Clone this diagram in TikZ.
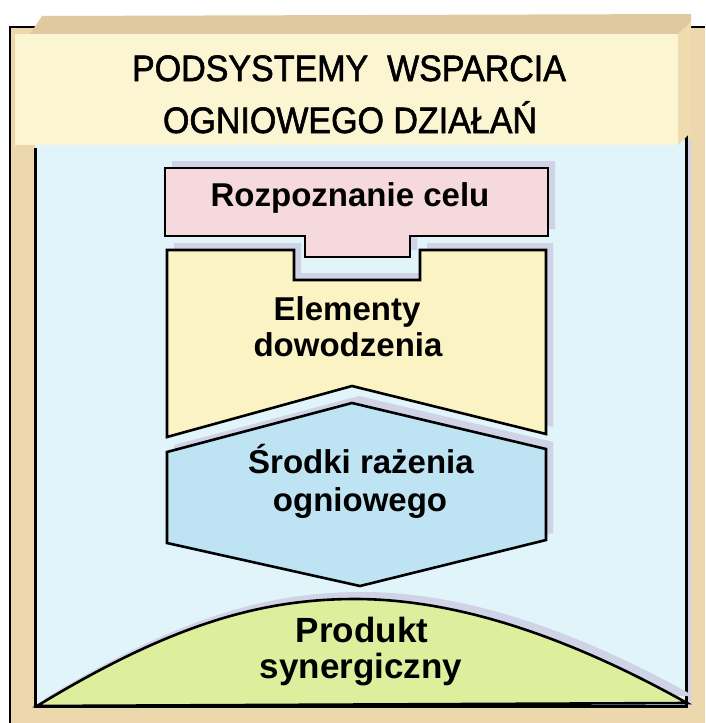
\documentclass[tikz,border=0pt]{standalone}
\usepackage{fontspec}
\setmainfont{Liberation Sans}
\newfontfamily\titlefont[FakeBold=1.6]{Liberation Sans}
\definecolor{tanbg}{HTML}{ECD8AC}
\definecolor{tantop}{HTML}{E0C9A0}
\definecolor{tanside}{HTML}{EEDCAF}
\definecolor{bannerc}{HTML}{FCF5D2}
\definecolor{panelc}{HTML}{E0F4F9}
\definecolor{pinkc}{HTML}{F6D9DD}
\definecolor{yelc}{HTML}{FBF3C3}
\definecolor{bluec}{HTML}{BEE3F3}
\definecolor{greenc}{HTML}{DDEE9C}
\definecolor{shadowc}{HTML}{D0D3E6}
\begin{document}
\begin{tikzpicture}[x=1pt,y=-1pt,
  outline/.style={draw=black, line width=2.6pt, line join=miter},
  shadowfill/.style={fill=shadowc, draw=none, shift={(7,-7)}},
  lbl/.style={font=\fontsize{33}{37}\bfseries\selectfont, anchor=base, inner sep=0pt},
  lblbig/.style={font=\fontsize{35}{40}\bfseries\selectfont, anchor=base, inner sep=0pt},
  ttl/.style={font=\titlefont\fontsize{34}{38}\selectfont, anchor=base, inner sep=0pt, yscale=1.08}]
\useasboundingbox (0,0) rectangle (705,723);
% outer background and frame
\fill[tanbg] (10,27) rectangle (705,723);
\draw[line width=2.5pt] (10,723) -- (10,27) -- (705,27);
% inner panel
\fill[panelc] (35,140) rectangle (686,706);
\fill[shadowc] (686,140) rectangle (691,706);
\draw[line width=3pt] (35,148) -- (35,706) -- (686,706) -- (686,133);
% banner
\fill[tantop] (30,34) -- (42,16) -- (691,14) -- (691,22) -- (678,34) -- cycle;
\fill[tanside] (678,34) -- (691,22) -- (691,132) -- (678,145) -- cycle;
\fill[bannerc] (15,34) rectangle (678,145);
\node[ttl] (t1) at (349,81) {PODSYSTEMY\ \ WSPARCIA};
\node[ttl] (t2) at (350,133) {OGNIOWEGO DZIAŁAŃ};
% shadows
\fill[shadowfill] (165,168) -- (548,168) -- (548,236) -- (410,236) -- (410,257) -- (305,257) -- (305,236) -- (165,236) -- cycle;
\fill[shadowfill] (167,250) -- (294,250) -- (294,280) -- (420,280) -- (420,250) -- (546,250) -- (546,434) -- (352,386) -- (167,437) -- cycle;
\fill[shadowfill] (352,403) -- (546,449) -- (546,540) -- (360,586) -- (167,543) -- (167,452) -- cycle;
\fill[shadowfill] (37,706) .. controls (170,625) and (260,599) .. (355,599) .. controls (450,599) and (560,632) .. (687,703) -- cycle;
% shapes
\filldraw[outline, fill=yelc] (167,250) -- (294,250) -- (294,280) -- (420,280) -- (420,250) -- (546,250) -- (546,434) -- (352,386) -- (167,437) -- cycle;
\filldraw[outline, fill=pinkc] (165,168) -- (548,168) -- (548,236) -- (410,236) -- (410,257) -- (305,257) -- (305,236) -- (165,236) -- cycle;
\filldraw[outline, fill=bluec] (352,403) -- (546,449) -- (546,540) -- (360,586) -- (167,543) -- (167,452) -- cycle;
\filldraw[outline, fill=greenc] (37,706) .. controls (170,625) and (260,599) .. (355,599) .. controls (450,599) and (560,632) .. (687,703) -- cycle;
% labels
\node[lbl] (rc) at (350,206) {Rozpoznanie celu};
\node[lbl] (e1) at (347,320) {Elementy};
\node[lbl] (e2) at (348,356) {dowodzenia};
\node[lbl] (s1) at (361,473) {Środki rażenia};
\node[lbl] (s2) at (360,511) {ogniowego};
\node[lblbig] (p1) at (362,642) {Produkt};
\node[lblbig] (p2) at (361,678) {synergiczny};
\end{tikzpicture}
\end{document}
